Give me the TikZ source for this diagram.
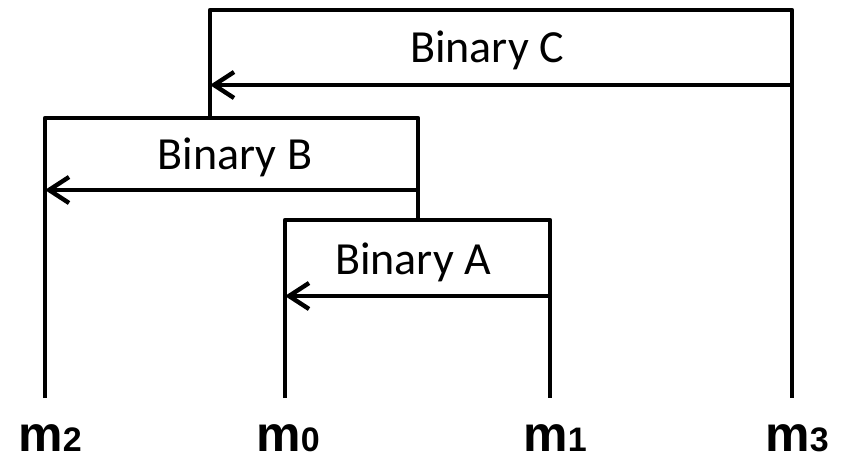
\documentclass[tikz,border=0pt]{standalone}
\usepackage{fontspec}
\setmainfont{Carlito}
\newfontfamily\massfont{Liberation Sans}
\usetikzlibrary{arrows.meta, positioning}
\newcommand{\idx}[1]{{\fontsize{17}{20}\selectfont #1}}

\begin{document}
\begin{tikzpicture}[x=0.5pt, y=-0.5pt, line width=2.2pt, line join=round,
  bin/.style={font=\fontsize{23}{27}\selectfont, inner sep=0pt},
  mass/.style={font=\massfont\bfseries\fontsize{25}{30}\selectfont, anchor=base, inner sep=0pt},
  toarrow/.style={-{Straight Barb[length=10pt, width=13pt]}}]
  \useasboundingbox (0,0) rectangle (842,462);
  % bracket corners and arrow levels
  \coordinate (a-l) at (285,220);
  \coordinate (a-r) at (550,220);
  \coordinate (a-arr) at (550,296);
  \coordinate (b-l) at (45,118);
  \coordinate (b-r) at (418,118);
  \coordinate (b-arr) at (418,190);
  \coordinate (c-l) at (210,10);
  \coordinate (c-r) at (792,10);
  \coordinate (c-arr) at (792,85);
  % leg ends
  \coordinate (foot2) at (45,398);
  \coordinate (foot0) at (285,398);
  \coordinate (foot1) at (550,398);
  \coordinate (foot3) at (792,398);
  % masses
  \node[mass] (m2) at (50,451) {m\idx{2}};
  \node[mass] (m0) at (288,451) {m\idx{0}};
  \node[mass] (m1) at (555,451) {m\idx{1}};
  \node[mass] (m3) at (797,451) {m\idx{3}};
  % brackets
  \draw (foot0) -- (a-l) -- (a-r) -- (foot1);
  \draw (foot2) -- (b-l) -- (b-r) -- (b-r |- a-l);
  \draw (b-l -| c-l) -- (c-l) -- (c-r) -- (foot3);
  % orbits
  \draw[toarrow] (a-arr) -- (a-arr -| a-l);
  \draw[toarrow] (b-arr) -- (b-arr -| b-l);
  \draw[toarrow] (c-arr) -- (c-arr -| c-l);
  \node[bin] (a-txt) at (413,262) {Binary A};
  \node[bin] (b-txt) at (235,157) {Binary B};
  \node[bin] (c-txt) at (487,50) {Binary C};
\end{tikzpicture}
\end{document}
